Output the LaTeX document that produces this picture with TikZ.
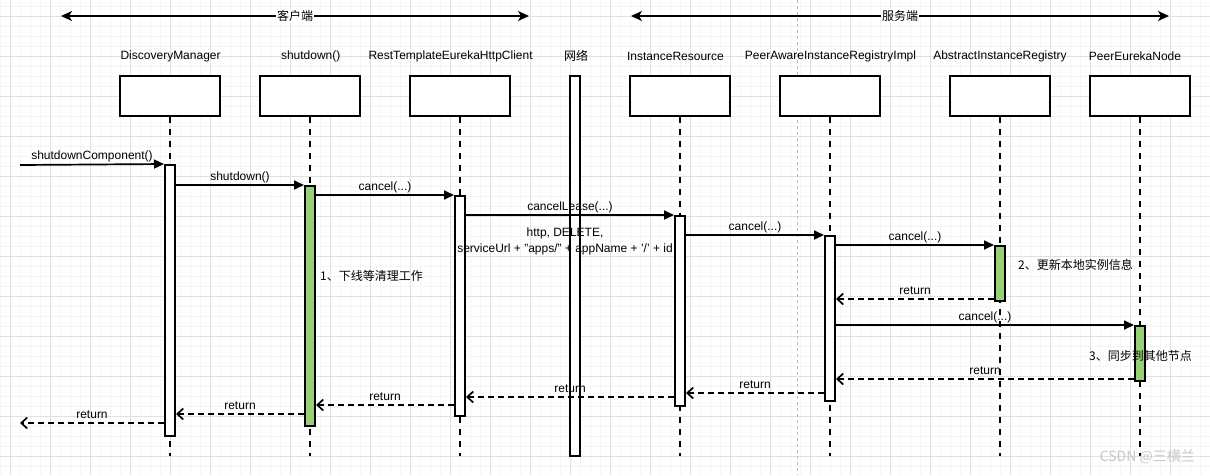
\documentclass[tikz,border=0pt]{standalone}
\usepackage{fontspec}
\setmainfont{Liberation Sans}
\newfontfamily\cjk{Noto Sans CJK SC}
\usepackage{tikz}
\usetikzlibrary{arrows.meta, positioning}
\definecolor{gridMinor}{RGB}{245,245,245}
\definecolor{gridMajor}{RGB}{225,225,225}
\definecolor{pageGray}{RGB}{190,190,190}
\definecolor{actGreen}{RGB}{151,208,119}

\begin{document}
\begin{tikzpicture}[x=1pt, y=-1pt,
  font=\fontsize{12}{14}\selectfont,
  box/.style={draw, line width=2pt, fill=white, minimum width=100pt, minimum height=40pt, inner sep=0pt},
  act/.style={draw, line width=2pt, fill=white, minimum width=10pt, inner sep=0pt},
  actG/.style={act, fill=actGreen},
  lifeline/.style={line width=1.8pt, dash pattern=on 6pt off 6pt},
  msg/.style={line width=1.7pt, -{Triangle[length=10pt, width=9pt]}},
  ret/.style={line width=1.7pt, dash pattern=on 6pt off 4pt, -{Straight Barb[length=6pt, width=11pt]}},
  span/.style={line width=1.7pt, {Stealth[length=11pt, width=10pt, inset=3pt]}-{Stealth[length=11pt, width=10pt, inset=3pt]}},
  lbl/.style={midway, above=1pt, inner sep=0pt, text height=9pt, text depth=3pt},
  note/.style={anchor=west, inner sep=0pt, font=\cjk\fontsize{12}{14}\selectfont}
]
  \useasboundingbox (0,0) rectangle (1210,475);

  % background grid — minor 10, major 40
  \foreach \gx in {0,10,...,1210} \draw[gridMinor, line width=0.8pt] (\gx,0) -- (\gx,475);
  \foreach \gy in {6,16,...,475} \draw[gridMinor, line width=0.8pt] (0,\gy) -- (1210,\gy);
  \foreach \gx in {10,50,...,1210} \draw[gridMajor, line width=0.8pt] (\gx,0) -- (\gx,475);
  \foreach \gy in {16,56,...,475} \draw[gridMajor, line width=0.8pt] (0,\gy) -- (1210,\gy);
  \draw[pageGray, line width=0.8pt, dash pattern=on 3pt off 3pt] (797.5,0) -- (797.5,475);

  % client / server spans
  \coordinate (cliL) at (61,16);  \coordinate (cliR) at (529,16);
  \coordinate (srvL) at (631,16); \coordinate (srvR) at (1169,16);
  \draw[span] (cliL) -- (cliR) node[midway, fill=white, inner sep=1pt, font=\cjk\fontsize{12}{14}\selectfont] (cliLbl) {客户端};
  \draw[span] (srvL) -- (srvR) node[midway, fill=white, inner sep=1pt, font=\cjk\fontsize{12}{14}\selectfont] (srvLbl) {服务端};

  % participant titles
  \foreach \n/\x/\t in {tDM/170.6/DiscoveryManager, tSD/310.7/shutdown(), tRest/450.6/RestTemplateEurekaHttpClient,
                        tNet/576/{\cjk 网络}, tIR/675.5/InstanceResource, tPA/830.5/PeerAwareInstanceRegistryImpl,
                        tAB/1000/AbstractInstanceRegistry, tPEN/1135/PeerEurekaNode}
    \node (\n) at (\x,56) {\t};

  % participant boxes and lifelines
  \coordinate (bottom) at (0,456);
  \foreach \n/\x in {dm/170, sd/310, rest/460, ir/680, pa/830, ab/1000, pen/1140} {
    \node[box] (\n) at (\x,96) {};
    \draw[lifeline] (\n.south) -- (\n.south |- bottom);
  }
  \node[act, minimum height=380pt] (net) at (575,266) {};

  % activation bars
  \node[act,  minimum height=271pt] (dmAct)   at (170,300.5) {};
  \node[actG, minimum height=240pt] (sdAct)   at (310,306) {};
  \node[act,  minimum height=220pt] (restAct) at (460,306) {};
  \node[act,  minimum height=190pt] (irAct)   at (680,311) {};
  \node[act,  minimum height=165pt] (paAct)   at (830,318.5) {};
  \node[actG, minimum height=55pt]  (abAct)   at (1000,273.5) {};
  \node[actG, minimum height=55pt]  (penAct)  at (1140,353.5) {};

  % calls
  \coordinate (caller) at (20,165);
  \draw[msg] (caller) -- (dmAct.north west) node[lbl] {shutdownComponent()};
  \draw[msg] (dmAct.east |- sdAct.north) -- (sdAct.north west) node[lbl] {shutdown()};
  \draw[msg] (sdAct.east |- restAct.north) -- (restAct.north west) node[lbl] {cancel(...)};
  \draw[msg] (restAct.east |- irAct.north) -- (irAct.north west) node[lbl] {cancelLease(...)}
    node[midway, below=12pt, xshift=-5pt, inner sep=0pt, align=center, font=\fontsize{12}{16}\selectfont] (httpLbl)
    {http, DELETE,\\serviceUrl + "apps/" + appName + '/' + id};
  \draw[msg] (irAct.east |- paAct.north) -- (paAct.north west) node[lbl] {cancel(...)};
  \draw[msg] (paAct.east |- abAct.north) -- (abAct.north west) node[lbl] {cancel(...)};
  \draw[msg] (paAct.east |- penAct.north) -- (penAct.north west) node[lbl] {cancel(...)};

  % returns
  \draw[ret] ([yshift=3pt]abAct.south west) -- ([yshift=3pt]paAct.east |- abAct.south) node[lbl] {return};
  \draw[ret] ([yshift=3pt]penAct.south west) -- ([yshift=3pt]paAct.east |- penAct.south) node[lbl] {return};
  \draw[ret] ([yshift=9pt]paAct.south west) -- ([yshift=9pt]irAct.east |- paAct.south) node[lbl] {return};
  \draw[ret] ([yshift=10pt]irAct.south west) -- ([yshift=10pt]restAct.east |- irAct.south) node[lbl] {return};
  \draw[ret] ([yshift=12pt]restAct.south west) -- ([yshift=12pt]sdAct.east |- restAct.south) node[lbl] {return};
  \draw[ret] ([yshift=13pt]sdAct.south west) -- ([yshift=13pt]dmAct.east |- sdAct.south) node[lbl] {return};
  \draw[ret] ([yshift=14pt]dmAct.south west) -- ([yshift=14pt]caller |- dmAct.south) node[lbl] {return};

  % notes
  \node[note] (note1) at (320,276) {1、下线等清理工作};
  \node[note] (note2) at (1018,265) {2、更新本地实例信息};
  \node[note] (note3) at (1089,356) {3、同步到其他节点};

  % watermark
  \node[anchor=east, inner sep=0pt, text=gray!45, font=\cjk\fontsize{14}{16}\selectfont] (mark) at (1195,457) {CSDN @三横兰};
\end{tikzpicture}
\end{document}
